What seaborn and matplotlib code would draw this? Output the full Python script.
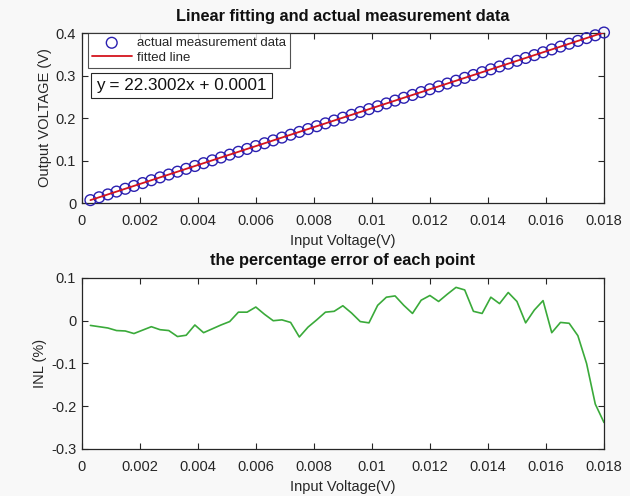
import numpy as np
import pandas as pd
import matplotlib
matplotlib.use("Agg")
import matplotlib.pyplot as plt
import seaborn as sns

# Input voltage steps (V)
input_voltage = [round(0.0003 * k, 4) for k in range(1, 61)]

# Measured output voltage (V)
output_voltage = [
    0.0068, 0.0135, 0.0202, 0.0269, 0.0335, 0.0402, 0.0469, 0.0536, 0.0603, 0.0670,
    0.0737, 0.0804, 0.0871, 0.0937, 0.1004, 0.1071, 0.1138, 0.1205, 0.1272, 0.1339,
    0.1406, 0.1473, 0.1540, 0.1607, 0.1673, 0.1740, 0.1807, 0.1874, 0.1941, 0.2008,
    0.2075, 0.2142, 0.2209, 0.2276, 0.2343, 0.2410, 0.2476, 0.2543, 0.2610, 0.2677,
    0.2744, 0.2811, 0.2878, 0.2945, 0.3012, 0.3079, 0.3146, 0.3213, 0.3279, 0.3346,
    0.3413, 0.3480, 0.3547, 0.3614, 0.3681, 0.3748, 0.3815, 0.3881, 0.3947, 0.4012,
]

# Linear fit coefficients
slope = 22.3002
intercept = 0.0001

# Percentage error (INL, %) of each point
inl_percent = [
    -0.011, -0.014, -0.017, -0.023, -0.024, -0.030, -0.022, -0.014, -0.021, -0.023,
    -0.037, -0.034, -0.010, -0.028, -0.019, -0.010, -0.002, 0.020, 0.020, 0.032,
    0.015, 0.000, 0.002, -0.004, -0.038, -0.015, 0.002, 0.020, 0.022, 0.035,
    0.018, -0.002, -0.005, 0.036, 0.055, 0.058, 0.036, 0.017, 0.048, 0.059,
    0.045, 0.062, 0.078, 0.072, 0.022, 0.017, 0.055, 0.040, 0.066, 0.045,
    -0.005, 0.025, 0.047, -0.028, -0.004, -0.006, -0.035, -0.100, -0.195, -0.238,
]

x_ticks = [0, 0.002, 0.004, 0.006, 0.008, 0.01, 0.012, 0.014, 0.016, 0.018]
x_tick_labels = ["0", "0.002", "0.004", "0.006", "0.008", "0.01", "0.012", "0.014", "0.016", "0.018"]
top_y_ticks = [0, 0.1, 0.2, 0.3, 0.4]
top_y_labels = ["0", "0.1", "0.2", "0.3", "0.4"]
bottom_y_ticks = [-0.3, -0.2, -0.1, 0, 0.1]
bottom_y_labels = ["-0.3", "-0.2", "-0.1", "0", "0.1"]

sns.set_theme(style="ticks")
plt.rcParams["font.family"] = ["Liberation Sans", "DejaVu Sans"]

bg = "#f8f8f8"
fig = plt.figure(figsize=(6.3, 4.96), dpi=100, facecolor=bg)
ax1 = fig.add_axes([0.1297, 0.5907, 0.8290, 0.3427])
ax2 = fig.add_axes([0.1297, 0.0948, 0.8290, 0.3448])

df = pd.DataFrame({"x": input_voltage, "y": output_voltage, "inl": inl_percent})
df["fit"] = slope * df["x"] + intercept

# Upper panel: measured points and fitted line
sns.scatterplot(data=df, x="x", y="y", ax=ax1, marker="o", s=60,
                facecolors="none", edgecolor="#2a1fb0", linewidth=1.0,
                label="actual measurement data", clip_on=False, zorder=3)
sns.lineplot(data=df, x="x", y="fit", ax=ax1, color="#d4141e", linewidth=1.3,
             label="fitted line", zorder=4)

# Lower panel: INL error curve
sns.lineplot(data=df, x="x", y="inl", ax=ax2, color="#3aaa3a", linewidth=1.2)

tick_fs = 10.5
for ax in (ax1, ax2):
    ax.set_facecolor("white")
    ax.set_xlim(0, 0.018)
    ax.set_xticks(x_ticks)
    ax.set_xticklabels(x_tick_labels)
    ax.tick_params(direction="in", length=4, width=0.8, top=True, right=True,
                   labelsize=tick_fs, colors="#262626")
    ax.tick_params(axis="x", pad=8)
    ax.tick_params(axis="y", pad=4)
    for sp in ax.spines.values():
        sp.set_visible(True)
        sp.set_color("#262626")
        sp.set_linewidth(0.9)

ax1.set_ylim(0, 0.4)
ax1.set_yticks(top_y_ticks)
ax1.set_yticklabels(top_y_labels)
ax2.set_ylim(-0.3, 0.1)
ax2.set_yticks(bottom_y_ticks)
ax2.set_yticklabels(bottom_y_labels)

ax1.set_title("Linear fitting and actual measurement data", fontsize=11.8,
              fontweight="bold", pad=9, color="#111111")
ax2.set_title("the percentage error of each point", fontsize=11.8,
              fontweight="bold", pad=9, color="#111111")
ax1.set_xlabel("Input Voltage(V)", fontsize=10.5, labelpad=4, color="#262626")
ax1.set_ylabel("Output VOLTAGE (V)", fontsize=10.5, labelpad=3, color="#262626")
ax2.set_xlabel("Input Voltage(V)", fontsize=10.5, labelpad=4, color="#262626")
ax2.set_ylabel("INL (%)", fontsize=10.5, labelpad=3, color="#262626")

leg = ax1.legend(loc="upper left", bbox_to_anchor=(0.012, 1.0), fontsize=9.5,
                 frameon=True, fancybox=False, edgecolor="#262626",
                 borderpad=0.3, labelspacing=0.2, handlelength=3.0,
                 handletextpad=0.4, borderaxespad=0.0)
leg.get_frame().set_linewidth(0.8)

ax1.text(0.028, 0.735, f"y = {slope:.4f}x + {intercept:.4f}", transform=ax1.transAxes,
         fontsize=12.3, va="top", ha="left", color="#111111",
         bbox=dict(boxstyle="square,pad=0.3", facecolor="white",
                   edgecolor="#262626", linewidth=0.8))

fig.savefig("out.png", dpi=100, facecolor=bg)
